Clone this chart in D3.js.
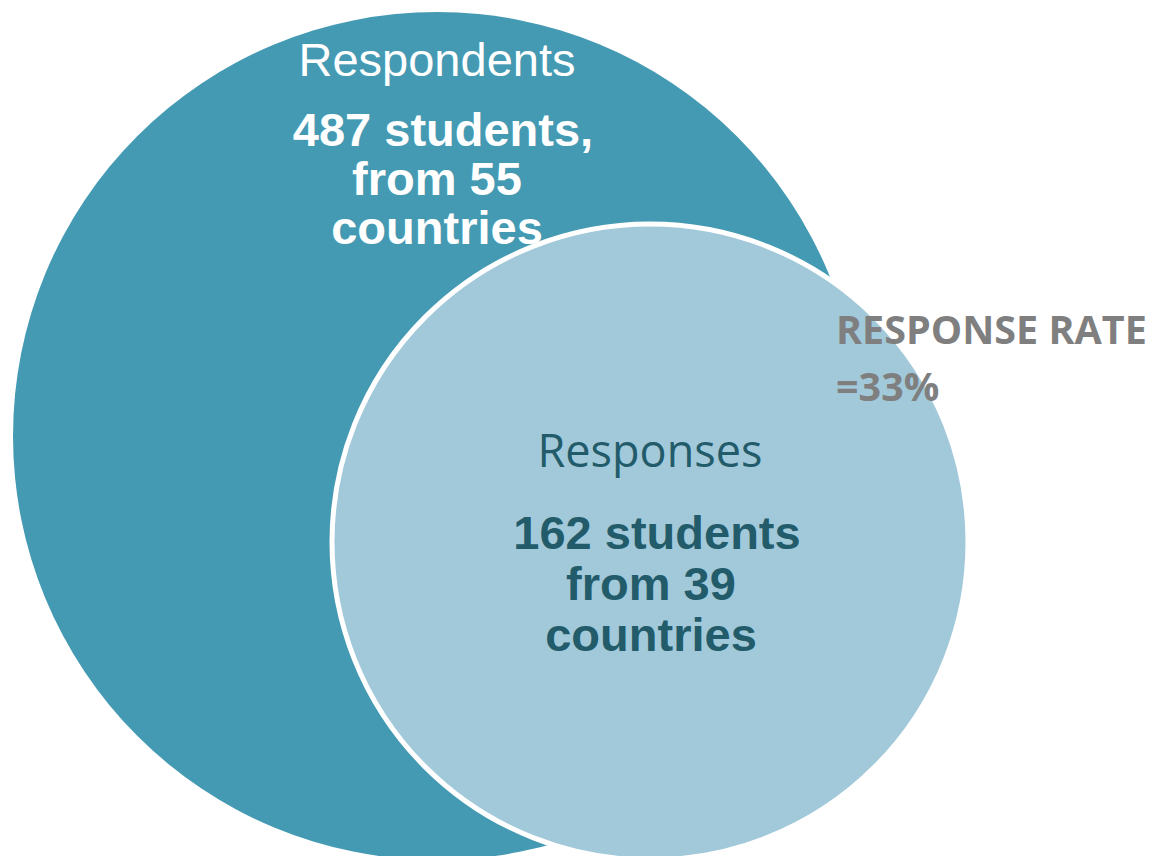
<!DOCTYPE html>
<html>
<head>
<meta charset="utf-8">
<script src="https://cdn.jsdelivr.net/npm/d3@7"></script>
<style>
  html, body { margin: 0; padding: 0; background: #ffffff; }
  svg { display: block; }
</style>
</head>
<body>
<svg id="chart" width="1158" height="856"></svg>
<script>
// Survey population vs. survey responses
const groups = ["Respondents", "Responses"];
const students = [487, 162];
const countries = [55, 39];
const responseRateLabel = ["RESPONSE RATE", "=33%"];

const W = 1158, H = 856;
const svg = d3.select("#chart");

// circle size from student count
const rScale = d3.scaleLinear().domain([162, 487]).range([318, 424]);

// circle centres in page space
const x = d3.scaleLinear().domain([0, 1]).range([437, 650]);
const y = d3.scaleLinear().domain([0, 1]).range([436, 542]);

const fills = ["#449AB3", "#A2C9DA"];
const labelColors = ["#ffffff", "#225B6A"];

const nodes = groups.map((g, i) => ({
  name: g, students: students[i], countries: countries[i],
  cx: x(i), cy: y(i), r: rScale(students[i]),
  fill: fills[i], color: labelColors[i]
}));

svg.selectAll("circle.set")
  .data(nodes)
  .join("circle")
  .attr("class", "set")
  .attr("cx", d => d.cx)
  .attr("cy", d => d.cy)
  .attr("r", d => d.r)
  .attr("fill", d => d.fill)
  .attr("stroke", (d, i) => i === 0 ? "none" : "#ffffff")
  .attr("stroke-width", 5);

// titles
const titleFont = ["'Liberation Sans', Arial, sans-serif", "'Open Sans', sans-serif"];
const titleSize = [47, 45];
const titlePos = [[437, 76], [650, 467]];
nodes.forEach((d, i) => {
  svg.append("text")
    .attr("x", titlePos[i][0]).attr("y", titlePos[i][1])
    .attr("text-anchor", "middle")
    .style("font-family", titleFont[i])
    .style("font-size", titleSize[i] + "px")
    .attr("fill", d.color)
    .text(d.name);
});

// figures
const blocks = [
  { lines: [`${students[0]} students,`, `from ${countries[0]}`, "countries"], cx: 437, y0: 146, dy: 49, shift: [6, 0, 0] },
  { lines: [`${students[1]} students`, `from ${countries[1]}`, "countries"], cx: 657, y0: 549, dy: 51, shift: [0, -6, -6] }
];
blocks.forEach((b, i) => {
  svg.append("text")
    .attr("text-anchor", "middle")
    .style("font-family", "'Liberation Sans', Arial, sans-serif")
    .style("font-weight", "bold")
    .style("font-size", "47px")
    .attr("fill", nodes[i].color)
    .selectAll("tspan")
    .data(b.lines)
    .join("tspan")
    .attr("x", (d, j) => b.cx + b.shift[j])
    .attr("y", (d, j) => b.y0 + j * b.dy)
    .text(d => d);
});

// response rate callout
svg.append("text")
  .style("font-family", "'Open Sans', sans-serif")
  .style("font-weight", "bold")
  .style("font-size", "39.5px")
  .attr("fill", "#7F7F7F")
  .selectAll("tspan")
  .data(responseRateLabel)
  .join("tspan")
  .attr("x", 836)
  .attr("y", (d, j) => 344 + j * 57)
  .text(d => d);
</script>
</body>
</html>
